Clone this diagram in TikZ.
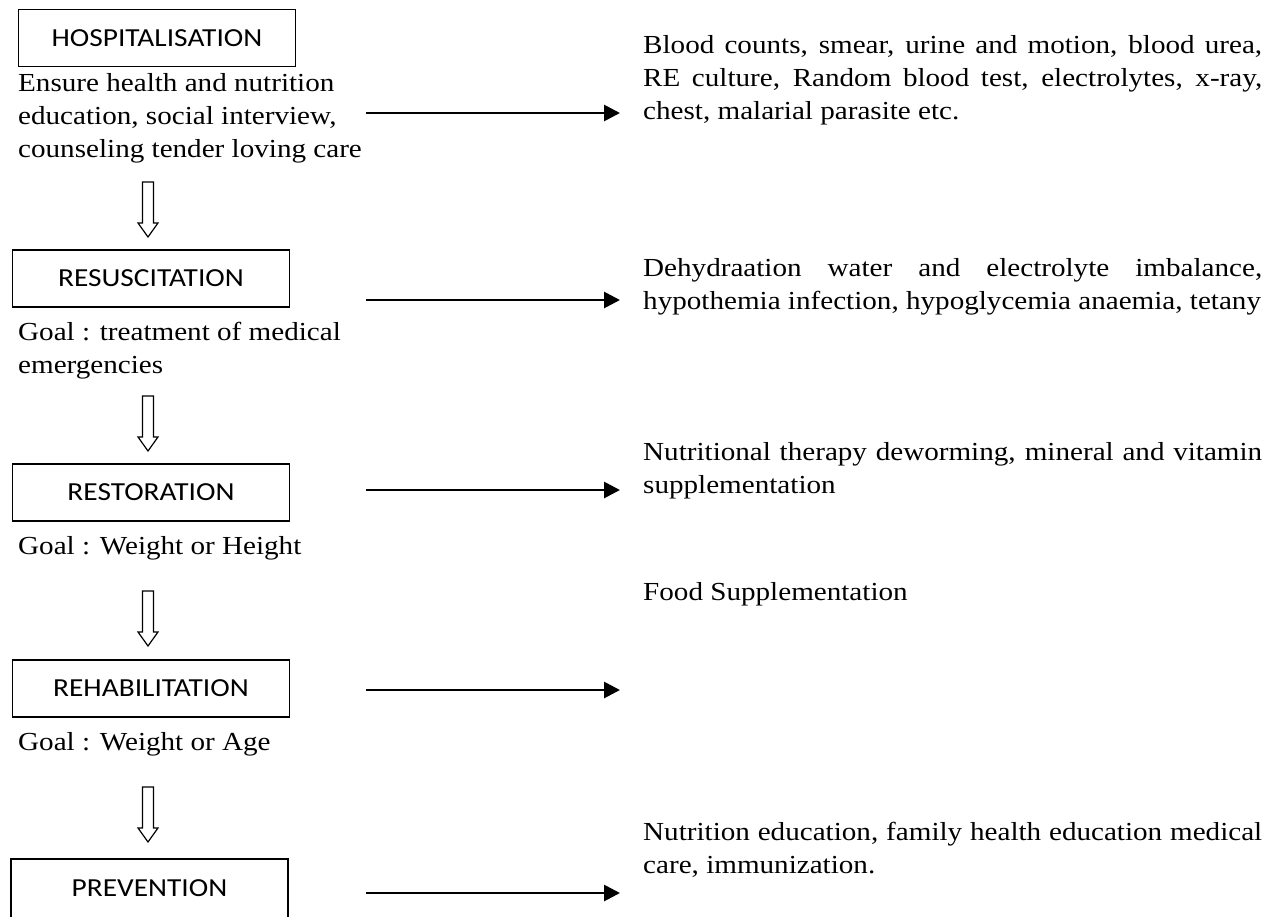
\documentclass[tikz,border=0pt]{standalone}
\usepackage{fontspec}
\setmainfont[FakeStretch=1.12]{Liberation Serif}
\newfontfamily\boxfont[FakeStretch=1.13]{Carlito}
\usetikzlibrary{arrows.meta}

% full-width justified line in the right column
\newcommand{\jline}[1]{\makebox[619pt][s]{#1}}

\begin{document}
\begin{tikzpicture}[x=1pt,y=-1pt,
  stage/.style={draw,line width=1.5pt,minimum width=277pt,minimum height=57pt,
    inner sep=0pt,font=\boxfont\fontsize{26pt}{30pt}\selectfont},
  note/.style={anchor=north west,inner sep=0pt,align=left,
    font=\fontsize{26pt}{33pt}\selectfont},
  flow/.style={line width=2.8pt,-{Triangle[length=16pt,width=16pt]}},
  hollowdown/.pic={
    \draw[line width=1.2pt,line join=miter]
      (-5.5,0) -- (5.5,0) -- (5.5,41) -- (10,41) -- (0,55) -- (-10,41) -- (-5.5,41) -- cycle;
  }]
\useasboundingbox (0,0) rectangle (1279,916);

% stage boxes
\node[stage] (hosp)  at (157,38)    {HOSPITALISATION};
\node[stage] (resus) at (151,278.5) {RESUSCITATION};
\node[stage] (resto) at (151,492.5) {RESTORATION};
\node[stage] (rehab) at (151,688.5) {REHABILITATION};
\node[stage,minimum height=59pt] (prev) at (149.5,888.5) {PREVENTION};

% notes under the boxes
\node[note] (n1) at (18,73)  {Ensure health and nutrition\\education, social interview,\\counseling tender loving care};
\node[note] (n2) at (18,322) {Goal : treatment of medical\\emergencies};
\node[note] (n3) at (18,536) {Goal : Weight or Height};
\node[note] (n4) at (18,732) {Goal : Weight or Age};

% hollow arrows between stages
\pic at (148,182) {hollowdown};
\pic at (148,396) {hollowdown};
\pic at (148,591) {hollowdown};
\pic at (148,787) {hollowdown};

% right column descriptions
\node[note] (d1) at (643,35)  {\jline{Blood counts, smear, urine and motion, blood urea,}\\\jline{RE culture, Random blood test, electrolytes, x-ray,}\\chest, malarial parasite etc.};
\node[note] (d2) at (643,258) {\jline{Dehydraation water and electrolyte imbalance,}\\hypothemia infection, hypoglycemia anaemia, tetany};
\node[note] (d3) at (643,442) {\jline{Nutritional therapy deworming, mineral and vitamin}\\supplementation};
\node[note] (d4) at (643,582) {Food Supplementation};
\node[note] (d5) at (643,822) {\jline{Nutrition education, family health education medical}\\care, immunization.};

% horizontal arrows
\coordinate (a1s) at (366,113); \coordinate (a1e) at (620,113);
\coordinate (a2s) at (366,300); \coordinate (a2e) at (620,300);
\coordinate (a3s) at (366,490); \coordinate (a3e) at (620,490);
\coordinate (a4s) at (366,690); \coordinate (a4e) at (620,690);
\coordinate (a5s) at (366,893); \coordinate (a5e) at (620,893);
\draw[flow] (a1s) -- (a1e);
\draw[flow] (a2s) -- (a2e);
\draw[flow] (a3s) -- (a3e);
\draw[flow] (a4s) -- (a4e);
\draw[flow] (a5s) -- (a5e);
\end{tikzpicture}
\end{document}
